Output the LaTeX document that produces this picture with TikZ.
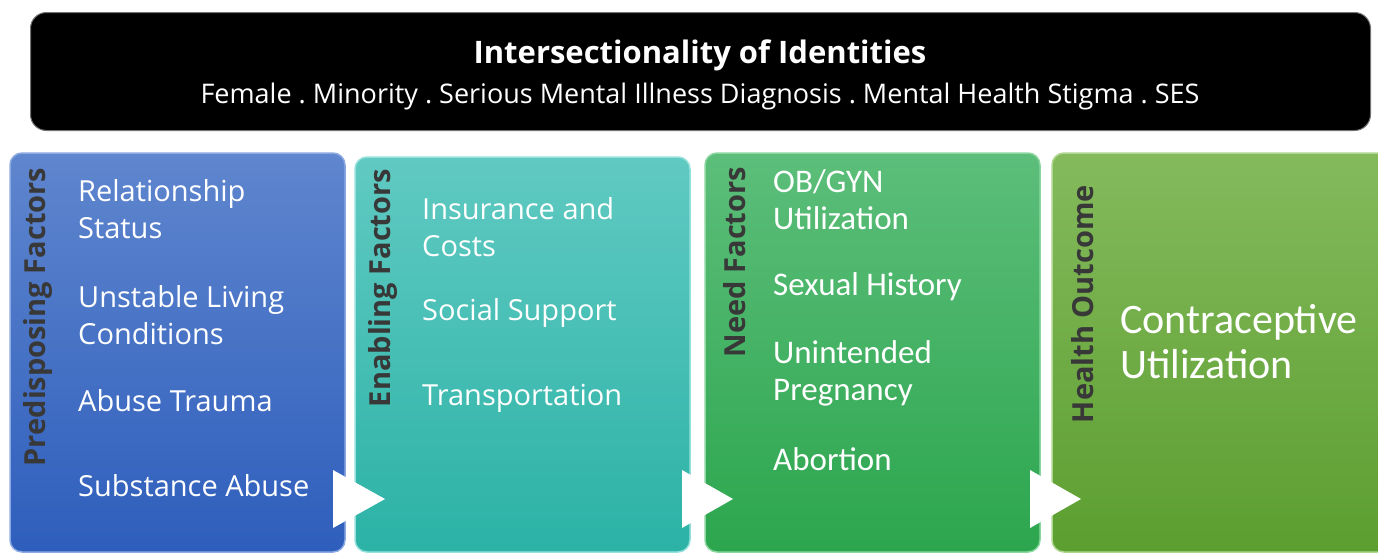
\documentclass[tikz,border=0pt]{standalone}
\usepackage{fontspec}
\setmainfont{Open Sans}
\newfontfamily\carlitofont{Carlito}
\frenchspacing
\begin{document}
\begin{tikzpicture}[x=1pt,y=-1pt,
  item/.style={anchor=west, text=white, font=\fontsize{29}{37}\selectfont, align=left, inner sep=0pt},
  citem/.style={item, font=\carlitofont\fontsize{33}{37}\selectfont},
  vlabel/.style={rotate=90, text=black!78, font=\bfseries\fontsize{29}{34}\selectfont, inner sep=0pt},
  chevron/.style={fill=white, draw=none}]
\clip (0,0) rectangle (1378,554);
\fill[white] (0,0) rectangle (1378,554);
% title box
\node[draw=black!55, line width=1pt, fill=black, rounded corners=16pt, minimum width=1340pt, minimum height=118pt, anchor=north west, inner sep=0pt] (top) at (30,12) {};
\node[text=white, font=\bfseries\fontsize{31}{34}\selectfont, inner sep=0pt] (title) at (700,55) {Intersectionality of Identities};
\node[text=white, font=\fontsize{27}{32}\selectfont, inner sep=0pt] (sub) at (700,96) {Female . Minority . Serious Mental Illness Diagnosis . Mental Health Stigma . SES};
% panels
\shade[top color={rgb,255:red,95;green,134;blue,206}, bottom color={rgb,255:red,46;green,94;blue,188}, rounded corners=12pt] (10,153) rectangle (345,552);
\draw[rounded corners=12pt, draw={rgb,255:red,140;green,170;blue,225}, line width=1.5pt] (10,153) rectangle (345,552);
\shade[top color={rgb,255:red,96;green,202;blue,194}, bottom color={rgb,255:red,44;green,178;blue,166}, rounded corners=12pt] (355,157) rectangle (690,552);
\draw[rounded corners=12pt, draw={rgb,255:red,150;green,225;blue,220}, line width=1.5pt] (355,157) rectangle (690,552);
\shade[top color={rgb,255:red,92;green,190;blue,122}, bottom color={rgb,255:red,44;green,166;blue,78}, rounded corners=12pt] (705,153) rectangle (1040,552);
\draw[rounded corners=12pt, draw={rgb,255:red,140;green,215;blue,160}, line width=1.5pt] (705,153) rectangle (1040,552);
\shade[top color={rgb,255:red,132;green,186;blue,92}, bottom color={rgb,255:red,92;green,158;blue,48}, rounded corners=12pt] (1052,153) rectangle (1400,552);
\draw[rounded corners=12pt, draw={rgb,255:red,175;green,215;blue,145}, line width=1.5pt] (1052,153) rectangle (1400,552);
% vertical labels
\node[vlabel] (pf) at (38,317) {Predisposing Factors};
\node[vlabel] (ef) at (383,288) {Enabling Factors};
\node[vlabel] (nf) at (735,262) {Need Factors};
\node[vlabel] (ho) at (1083,304) {Health Outcome};
% items
\node[item] (p1) at (78,209) {Relationship\\Status};
\node[item] (p2) at (78,315) {Unstable Living\\Conditions};
\node[item] (p3) at (78,401) {Abuse Trauma};
\node[item] (p4) at (78,486) {Substance Abuse};
\node[item] (e1) at (422,227) {Insurance and\\Costs};
\node[item] (e2) at (422,313) {Social Support};
\node[item] (e3) at (422,398) {Transportation};
\node[citem] (n1) at (773,200) {OB/GYN\\Utilization};
\node[citem] (n2) at (773,287) {Sexual History};
\node[citem] (n3) at (773,373) {Unintended\\Pregnancy};
\node[citem] (n4) at (773,459) {Abortion};
\node[item, font=\carlitofont\fontsize{42}{45}\selectfont] (o1) at (1120,342) {Contraceptive\\Utilization};
% chevrons
\fill[chevron] (333,470) -- (385,499) -- (333,528) -- cycle;
\fill[chevron] (682,470) -- (733,499) -- (682,528) -- cycle;
\fill[chevron] (1030,470) -- (1081,499) -- (1030,528) -- cycle;
\end{tikzpicture}
\end{document}
